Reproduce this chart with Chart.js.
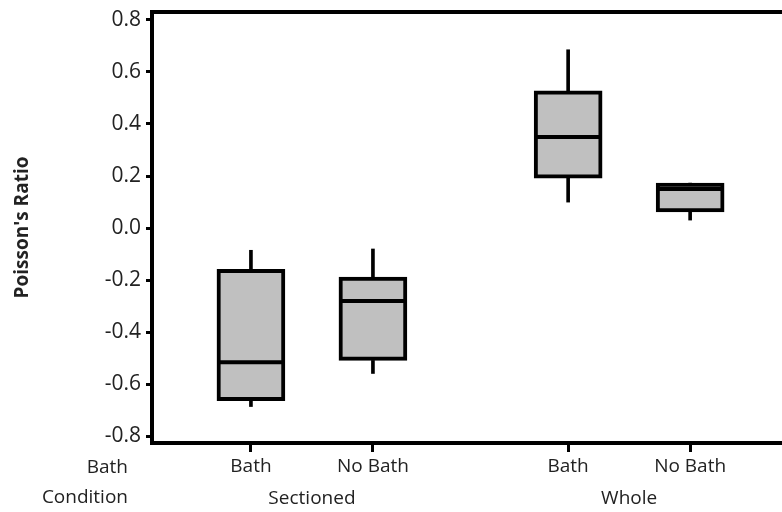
<!DOCTYPE html>
<html>
<head>
<meta charset="utf-8">
<script src="https://cdn.jsdelivr.net/npm/chart.js@4.4.0/dist/chart.umd.min.js"></script>
<style>
  html, body { margin: 0; padding: 0; background: #fff; }
</style>
</head>
<body>
<canvas id="chart" width="782" height="512"></canvas>
<script>
// box plot: poisson's ratio by sample and bath condition

const positions = [1, 2, 3.6, 4.6];
const conditions = ['Bath', 'No Bath', 'Bath', 'No Bath'];
const groups = ['Sectioned', 'Whole'];
const groupPositions = [1.5, 4.1];

const mins = [-0.685, -0.558, 0.10, 0.031];
const q1s = [-0.662, -0.508, 0.192, 0.062];
const medians = [-0.515, -0.280, 0.350, 0.150];
const q3s = [-0.158, -0.188, 0.527, 0.173];
const maxs = [-0.085, -0.080, 0.685, 0.173];

const yTicks = [-0.8, -0.6, -0.4, -0.2, 0.0, 0.2, 0.4, 0.6, 0.8];

const textColor = '#222';
const font = 'Open Sans';

// floating bars from the arrays above
const boxes = positions.map((x, i) => ({ x: x, y: [q1s[i], q3s[i]] }));
const upper = positions.map((x, i) => ({ x: x, y: [q3s[i], maxs[i]] }));
const lower = positions.map((x, i) => ({ x: x, y: [mins[i], q1s[i]] }));
const mids = positions.map((x, i) => ({ x: x, y: medians[i] }));

// the "Bath / Condition" row header sits left of the plot
const rowHeader = {
  id: 'rowHeader',
  afterDraw(chart) {
    const ctx = chart.ctx;
    const x = chart.scales.x;
    const g = chart.scales.xg;
    ctx.save();
    ctx.font = '19px "' + font + '"';
    ctx.fillStyle = textColor;
    ctx.textAlign = 'right';
    ctx.textBaseline = 'middle';
    ctx.fillText('Bath', 128, x.top + 25);
    ctx.fillText('Condition', 128, g.top + 17);
    ctx.restore();
  }
};

// no edge padding for labels, the plot runs to the right edge
const noPad = (scale) => {
  scale.paddingLeft = 0;
  scale.paddingRight = 0;
  scale.paddingTop = 0;
  scale.paddingBottom = 0;
};

const xRange = { min: 0.189, max: 5.353 };

new Chart(document.getElementById('chart'), {
  type: 'bar',
  data: {
    datasets: [
      {
        label: 'upper whisker',
        data: upper,
        backgroundColor: '#000',
        borderWidth: 0,
        barThickness: 3,
        grouped: false,
        order: 3
      },
      {
        label: 'lower whisker',
        data: lower,
        backgroundColor: '#000',
        borderWidth: 0,
        barThickness: 3,
        grouped: false,
        order: 3
      },
      {
        label: 'box',
        data: boxes,
        backgroundColor: '#c0c0c0',
        borderColor: '#000',
        borderWidth: 4,
        borderSkipped: false,
        barThickness: 68,
        grouped: false,
        order: 2
      },
      {
        type: 'line',
        label: 'median',
        data: mids,
        showLine: false,
        pointStyle: 'line',
        pointRadius: 33,
        pointBorderWidth: 4,
        pointBorderColor: '#000',
        order: 1
      }
    ]
  },
  options: {
    responsive: false,
    animation: false,
    layout: { padding: 0, autoPadding: false },
    plugins: {
      legend: { display: false },
      tooltip: { enabled: false }
    },
    scales: {
      x: {
        type: 'linear',
        position: 'bottom',
        weight: 0,
        min: xRange.min,
        max: xRange.max,
        offset: false,
        border: { display: true, width: 4, color: '#000', z: 1 },
        grid: { display: true, offset: false, z: 1, drawOnChartArea: false, drawTicks: true, tickLength: 9, tickWidth: 3, tickColor: '#000' },
        afterBuildTicks: (scale) => { scale.ticks = positions.map(v => ({ value: v })); },
        afterFit: (scale) => { scale.height = 38; noPad(scale); },
        ticks: {
          autoSkip: false,
          maxRotation: 0,
          padding: 3,
          color: textColor,
          font: { family: font, size: 19 },
          callback: (value, index) => conditions[index]
        }
      },
      xg: {
        type: 'linear',
        position: 'bottom',
        weight: 1,
        min: xRange.min,
        max: xRange.max,
        offset: false,
        border: { display: false },
        grid: { display: false, drawTicks: false, offset: false },
        afterBuildTicks: (scale) => { scale.ticks = groupPositions.map(v => ({ value: v })); },
        afterFit: (scale) => { scale.height = 31; noPad(scale); },
        ticks: {
          autoSkip: false,
          maxRotation: 0,
          padding: 6,
          color: textColor,
          font: { family: font, size: 19 },
          callback: (value, index) => groups[index]
        }
      },
      xt: {
        type: 'linear',
        position: 'top',
        min: xRange.min,
        max: xRange.max,
        border: { display: true, width: 4, color: '#000' },
        grid: { display: false, drawTicks: false },
        ticks: { display: false },
        afterFit: (scale) => { scale.height = 12; noPad(scale); }
      },
      y: {
        min: -0.825,
        max: 0.83,
        border: { display: true, width: 4, color: '#000', z: 1 },
        grid: { display: true, z: 1, drawOnChartArea: false, drawTicks: true, tickLength: 6, tickWidth: 3, tickColor: '#000' },
        afterBuildTicks: (scale) => { scale.ticks = yTicks.map(v => ({ value: v })); },
        afterFit: (scale) => { scale.width = 152; noPad(scale); },
        ticks: {
          padding: 5,
          color: textColor,
          font: { family: font, size: 21 },
          callback: (value) => value.toFixed(1)
        },
        title: {
          display: true,
          text: "Poisson's Ratio",
          color: textColor,
          padding: { top: 11, bottom: 4 },
          font: { family: font, size: 19, weight: 'bold' }
        }
      }
    }
  },
  plugins: [rowHeader]
});
</script>
</body>
</html>
